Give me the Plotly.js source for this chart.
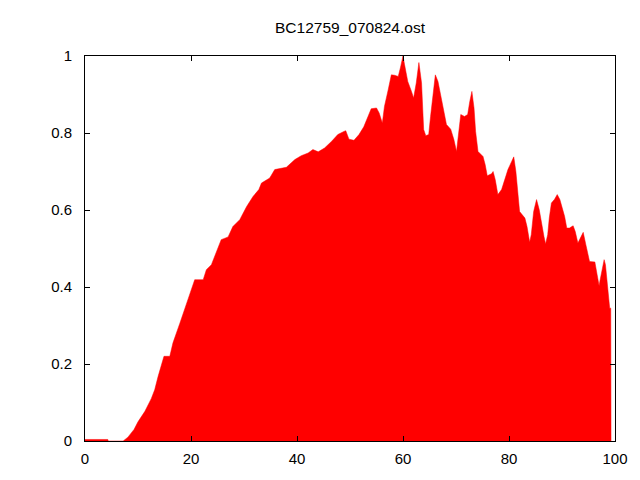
<!DOCTYPE html>
<html>
<head>
<meta charset="utf-8">
<script src="https://cdn.plot.ly/plotly-3.0.1.min.js"></script>
<style>html,body{margin:0;padding:0;background:#fff;}#chart{width:640px;height:480px;}</style>
</head>
<body>
<div id="chart"></div>
<script>
var chartTitle = "BC12759_070824.ost";
var xValues = [0, 4.3, 4.4, 7.2, 8.1, 9.25, 10, 11.3, 12.5, 13.15,
  13.8, 14.4, 14.9, 16.0, 16.6, 17.9, 19.1, 20.1, 20.7, 22.3,
  22.9, 23.85, 24.8, 25.7, 27.0, 27.9, 29.2, 30.5, 31.7, 32.8,
  33.3, 34.85, 35.8, 38.0, 39.6, 40.8, 42.1, 43.0, 44.0, 45.2,
  46.5, 47.7, 48.85, 49.2, 49.8, 50.75, 51.7, 52.6, 53.4, 54.0,
  55.0, 55.5, 56.1, 56.5, 57.2, 57.8, 58.4, 59.1, 59.5, 60.0,
  60.3, 60.9, 61.6, 62.0, 62.5, 63.0, 63.5, 63.9, 64.3, 64.85,
  65.2, 65.7, 66.1, 66.6, 67.2, 67.7, 68.2, 69.0, 69.6, 70.1,
  70.4, 70.9, 71.6, 72.2, 72.6, 73.0, 73.4, 73.7, 74.15, 75.1,
  75.5, 75.9, 76.7, 77.0, 77.4, 77.9, 78.6, 79.2, 79.8, 80.5,
  80.9, 81.3, 81.7, 82.0, 83.0, 83.4, 83.9, 84.2, 84.65, 85.2,
  85.7, 86.1, 86.6, 86.9, 87.3, 87.6, 88.0, 88.6, 89.1, 89.6,
  90.1, 90.5, 90.9, 91.4, 92.1, 92.5, 93.0, 93.5, 94.0, 94.5,
  94.9, 95.2, 96.2, 96.6, 97.0, 97.2, 97.6, 97.95, 98.2, 98.5,
  98.75, 99.0, 99.2, 99.25];
var yValues = [0.004, 0.004, 0, 0, 0.01, 0.03, 0.05, 0.077, 0.11, 0.133,
  0.168, 0.198, 0.22, 0.22, 0.255, 0.306, 0.354, 0.393, 0.419, 0.419,
  0.445, 0.458, 0.492, 0.523, 0.530, 0.557, 0.575, 0.609, 0.635, 0.653,
  0.67, 0.683, 0.705, 0.711, 0.731, 0.741, 0.748, 0.757, 0.751, 0.761,
  0.778, 0.796, 0.804, 0.806, 0.784, 0.781, 0.796, 0.816, 0.843, 0.863,
  0.865, 0.852, 0.826, 0.869, 0.912, 0.951, 0.950, 0.947, 0.969, 1.0,
  0.977, 0.934, 0.908, 0.891, 0.930, 0.983, 0.930, 0.809, 0.793, 0.796,
  0.843, 0.912, 0.951, 0.934, 0.895, 0.860, 0.822, 0.810, 0.783, 0.752,
  0.791, 0.848, 0.843, 0.848, 0.882, 0.908, 0.865, 0.804, 0.752, 0.739,
  0.718, 0.689, 0.694, 0.700, 0.679, 0.640, 0.653, 0.679, 0.705, 0.726,
  0.738, 0.700, 0.648, 0.596, 0.579, 0.557, 0.516, 0.536, 0.596, 0.627,
  0.601, 0.566, 0.531, 0.512, 0.536, 0.579, 0.618, 0.628, 0.640, 0.627,
  0.605, 0.583, 0.553, 0.553, 0.559, 0.544, 0.514, 0.527, 0.542, 0.510,
  0.479, 0.466, 0.465, 0.436, 0.403, 0.419, 0.449, 0.471, 0.458, 0.415,
  0.369, 0.345, 0.345, 0];
var xTickValues = [0, 20, 40, 60, 80, 100];
var yTickValues = [0, 0.2, 0.4, 0.6, 0.8, 1];

var trace = {
  x: xValues,
  y: yValues,
  type: 'scatter',
  mode: 'lines',
  fill: 'tozeroy',
  fillcolor: '#ff0000',
  line: {color: '#ff0000', width: 0.5},
  hoverinfo: 'skip',
  showlegend: false
};

var fontFam = '"Liberation Sans", Arial, sans-serif';
var axisCommon = {
  showline: true, mirror: 'ticks', linecolor: '#000', linewidth: 1,
  ticks: 'inside', ticklen: 5, tickwidth: 1, tickcolor: '#000',
  showgrid: false, zeroline: false,
  tickfont: {family: fontFam, size: 15, color: '#000'}
};

var layout = {
  width: 640, height: 480,
  paper_bgcolor: '#fff', plot_bgcolor: '#fff',
  margin: {l: 85, r: 25, t: 56, b: 39},
  title: {text: chartTitle, font: {family: fontFam, size: 15.5, color: '#000'},
          x: 0.5, xref: 'paper', y: 1 - 28/480, yref: 'container', yanchor: 'middle'},
  xaxis: Object.assign({}, axisCommon, {range: [0, 100], tickvals: xTickValues, ticktext: xTickValues.map(String), ticklabelstandoff: 4}),
  yaxis: Object.assign({}, axisCommon, {range: [0, 1], tickvals: yTickValues, ticktext: yTickValues.map(String), ticklabelstandoff: 9})
};

Plotly.newPlot('chart', [trace], layout, {staticPlot: true, displayModeBar: false});
</script>
</body>
</html>
